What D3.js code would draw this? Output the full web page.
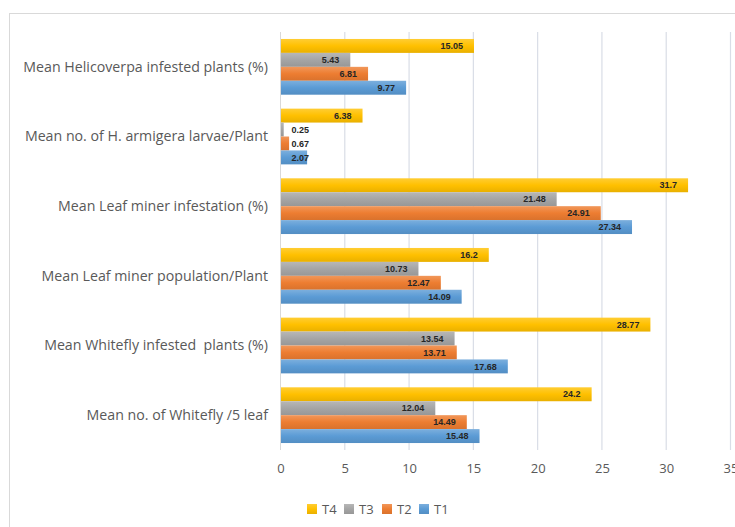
<!DOCTYPE html>
<html>
<head>
<meta charset="utf-8">
<script src="https://cdn.jsdelivr.net/npm/d3@7"></script>
<style>
  body { margin: 0; background: #fff; }
  svg text { font-family: "Liberation Sans", Arial, sans-serif; }
</style>
</head>
<body>
<div id="chart"></div>
<script>
// data
const categories = [
  "Mean Helicoverpa infested plants (%)",
  "Mean no. of H. armigera larvae/Plant",
  "Mean Leaf miner infestation (%)",
  "Mean Leaf miner population/Plant",
  "Mean Whitefly infested  plants (%)",
  "Mean no. of Whitefly /5 leaf"
];
const seriesNames = ["T4", "T3", "T2", "T1"];
const T4 = [15.05, 6.38, 31.7, 16.2, 28.77, 24.2];
const T3 = [5.43, 0.25, 21.48, 10.73, 13.54, 12.04];
const T2 = [6.81, 0.67, 24.91, 12.47, 13.71, 14.49];
const T1 = [9.77, 2.07, 27.34, 14.09, 17.68, 15.48];
const xTicks = [0, 5, 10, 15, 20, 25, 30, 35];

const seriesValues = {T4: T4, T3: T3, T2: T2, T1: T1};
const colors = {T4: "#FFC000", T3: "#A5A5A5", T2: "#ED7D31", T1: "#5B9BD5"};

const width = 735, height = 527;
const plot = {left: 280.5, right: 730.5, top: 32, bottom: 450};

let svg = d3.select("#chart")
    .append("svg")
    .attr("width", width)
    .attr("height", height);

// chart frame (only left and top edges visible)
svg.append("line")
    .attr("x1", 9.5).attr("x2", 9.5).attr("y1", 13).attr("y2", height)
    .attr("stroke", "#d9d9d9");
svg.append("line")
    .attr("x1", 9).attr("x2", width).attr("y1", 13.5).attr("y2", 13.5)
    .attr("stroke", "#d9d9d9");

// gradients
let defs = svg.append("defs");
seriesNames.forEach(function(s) {
    let base = d3.color(colors[s]);
    let g = defs.append("linearGradient")
        .attr("id", "grad" + s)
        .attr("x1", 0).attr("y1", 0).attr("x2", 0).attr("y2", 1);
    g.append("stop").attr("offset", "0%").attr("stop-color", d3.interpolateRgb(base, "#fff")(0.2));
    g.append("stop").attr("offset", "50%").attr("stop-color", base.formatHex());
    g.append("stop").attr("offset", "100%").attr("stop-color", base.darker(0.25).formatHex());
});

let x = d3.scaleLinear()
    .domain([0, 35])
    .range([plot.left, plot.right]);

let y = d3.scaleBand()
    .domain(categories)
    .range([plot.top, plot.bottom])
    .paddingInner(0.2)
    .paddingOuter(0.1);

let yInner = d3.scaleBand()
    .domain(seriesNames)
    .range([0, y.bandwidth()]);

// gridlines
svg.append("g").selectAll("line")
    .data(xTicks.slice(1))
    .join("line")
    .attr("x1", function(d) { return x(d); })
    .attr("x2", function(d) { return x(d); })
    .attr("y1", plot.top)
    .attr("y2", plot.bottom)
    .attr("stroke", "#d9dde6")
    .attr("stroke-width", 1.2);

// x axis labels
let xAxis = svg.append("g")
    .attr("transform", `translate(0, ${plot.bottom})`)
    .call(d3.axisBottom(x).tickValues(xTicks).tickSize(0).tickPadding(14));
xAxis.select(".domain").remove();
xAxis.selectAll("text")
    .attr("fill", "#595959")
    .style("font-family", "'Open Sans', sans-serif")
    .style("font-size", "13px");

// bars
let rows = [];
categories.forEach(function(c, i) {
    seriesNames.forEach(function(s) {
        rows.push({cat: c, series: s, value: seriesValues[s][i]});
    });
});

let groups = svg.append("g");
groups.selectAll("rect")
    .data(rows)
    .join("rect")
    .attr("x", x(0))
    .attr("y", function(d) { return y(d.cat) + yInner(d.series); })
    .attr("width", function(d) { return x(d.value) - x(0); })
    .attr("height", yInner.bandwidth())
    .attr("fill", function(d) { return "url(#grad" + d.series + ")"; });

// left axis line
svg.append("line")
    .attr("x1", plot.left).attr("x2", plot.left)
    .attr("y1", plot.top).attr("y2", plot.bottom)
    .attr("stroke", "#d9d9d9");

// value labels at inside end
let labels = svg.append("g").selectAll("text")
    .data(rows)
    .join("text")
    .attr("y", function(d) { return y(d.cat) + yInner(d.series) + yInner.bandwidth() / 2; })
    .attr("dy", "0.35em")
    .attr("text-anchor", "end")
    .style("font-size", "9px")
    .style("font-weight", "bold")
    .attr("fill", "#262626")
    .text(function(d) { return d.value; });
labels.each(function(d) {
    let w = this.getComputedTextLength();
    let endX = Math.max(x(d.value) - 11, x(0) + 11 + w);
    d3.select(this).attr("x", endX);
});

// category labels
svg.append("g").selectAll("text")
    .data(categories)
    .join("text")
    .attr("x", 268)
    .attr("y", function(d) { return y(d) + y.bandwidth() / 2; })
    .attr("dy", "0.35em")
    .attr("text-anchor", "end")
    .attr("fill", "#595959")
    .style("font-family", "'Open Sans', sans-serif")
    .style("font-size", "14.2px")
    .style("white-space", "pre")
    .text(function(d) { return d; });

// legend
let legendX = [307, 344, 382, 419];
let legend = svg.append("g").selectAll("g")
    .data(seriesNames)
    .join("g")
    .attr("transform", function(d, i) { return `translate(${legendX[i]}, 509)`; });
legend.append("rect")
    .attr("x", 0).attr("y", -5)
    .attr("width", 10).attr("height", 10)
    .attr("fill", function(d) { return "url(#grad" + d + ")"; });
legend.append("text")
    .attr("x", 15).attr("dy", "0.35em")
    .attr("fill", "#595959")
    .style("font-family", "'Open Sans', sans-serif")
    .style("font-size", "13px")
    .text(function(d) { return d; });
</script>
</body>
</html>
